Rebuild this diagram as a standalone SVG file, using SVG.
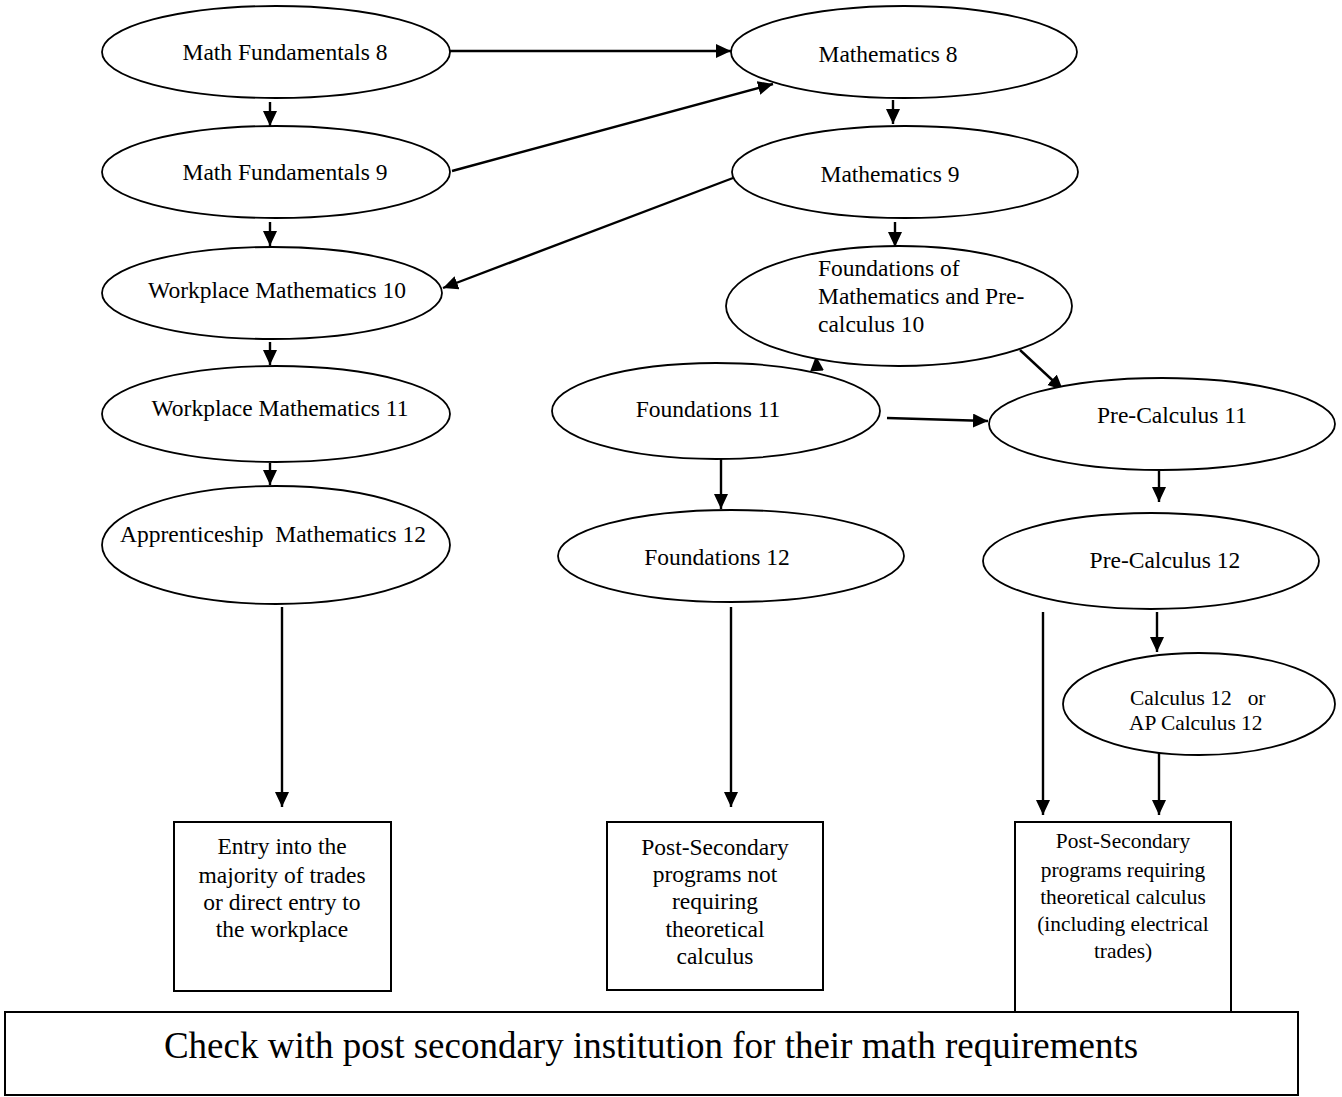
<svg xmlns="http://www.w3.org/2000/svg" width="1342" height="1097" viewBox="0 0 1342 1097">
<defs>
<marker id="arr" markerUnits="userSpaceOnUse" markerWidth="16" markerHeight="16" refX="15" refY="7" orient="auto">
<path d="M0,0 L15,7 L0,14 z" fill="#000"/>
</marker>
<style>
ellipse{fill:#fff;stroke:#000;stroke-width:1.8}
rect{fill:#fff;stroke:#000;stroke-width:2}
text{font-family:"Liberation Serif","Times New Roman",serif;font-size:23.5px;fill:#000}
.c{text-anchor:middle}
.s{font-size:21.4px}
.big{font-size:37px}
#connectors line{stroke:#000;stroke-width:2.4;marker-end:url(#arr)}
</style>
</defs>
<rect x="0" y="0" width="1342" height="1097" style="fill:#fff;stroke:none"/>
<g id="connectors">
<line x1="270" y1="102" x2="270" y2="126"/>
<line x1="450" y1="51" x2="731" y2="51"/>
<line x1="452" y1="171" x2="773" y2="84"/>
<line x1="893" y1="100" x2="893" y2="124"/>
<line x1="733" y1="178" x2="443" y2="288"/>
<line x1="270" y1="222" x2="270" y2="246"/>
<line x1="895" y1="222" x2="895" y2="247"/>
<line x1="270" y1="342" x2="270" y2="365"/>
<line x1="270" y1="463" x2="270" y2="485"/>
<line x1="282" y1="607" x2="282" y2="807"/>
<line x1="1020" y1="350" x2="1063" y2="390"/>
<line x1="817" y1="370" x2="816" y2="356"/>
<line x1="721" y1="459" x2="721" y2="509"/>
<line x1="887" y1="418" x2="988" y2="421"/>
<line x1="731" y1="607" x2="731" y2="807"/>
<line x1="1159" y1="471" x2="1159" y2="502"/>
<line x1="1157" y1="612" x2="1157" y2="652"/>
<line x1="1043" y1="612" x2="1043" y2="815"/>
<line x1="1159" y1="748" x2="1159" y2="815"/>
</g>
<g id="mf8"><ellipse cx="276" cy="52" rx="174" ry="46"/><text class="c" x="285" y="60">Math Fundamentals 8</text></g>
<g id="mf9"><ellipse cx="276" cy="172" rx="174" ry="46"/><text class="c" x="285" y="180">Math Fundamentals 9</text></g>
<g id="wm10"><ellipse cx="272" cy="293" rx="170" ry="46"/><text class="c" x="277" y="298">Workplace Mathematics 10</text></g>
<g id="wm11"><ellipse cx="276" cy="414" rx="174" ry="48"/><text class="c" x="280" y="416">Workplace Mathematics 11</text></g>
<g id="am12"><ellipse cx="276" cy="545" rx="174" ry="59"/><text class="c" x="273" y="542" xml:space="preserve">Apprenticeship  Mathematics 12</text></g>
<g id="m8"><ellipse cx="904" cy="52" rx="173" ry="46"/><text class="c" x="888" y="62">Mathematics 8</text></g>
<g id="m9"><ellipse cx="905" cy="172" rx="173" ry="46"/><text class="c" x="890" y="182">Mathematics 9</text></g>
<g id="fmp10"><ellipse cx="899" cy="306" rx="173" ry="60"/>
<text x="818" y="276">Foundations of</text>
<text x="818" y="304">Mathematics and Pre-</text>
<text x="818" y="332">calculus 10</text></g>
<g id="f11"><ellipse cx="716" cy="411" rx="164" ry="48"/><text class="c" x="708" y="417">Foundations 11</text></g>
<g id="f12"><ellipse cx="731" cy="556" rx="173" ry="46"/><text class="c" x="717" y="565">Foundations 12</text></g>
<g id="pc11"><ellipse cx="1162" cy="424" rx="173" ry="46"/><text class="c" x="1172" y="423">Pre-Calculus 11</text></g>
<g id="pc12"><ellipse cx="1151" cy="561" rx="168" ry="48"/><text class="c" x="1165" y="568">Pre-Calculus 12</text></g>
<g id="calc"><ellipse cx="1199" cy="704" rx="136" ry="51"/>
<text class="s" x="1130" y="705" xml:space="preserve">Calculus 12   or</text>
<text class="s" x="1129" y="730">AP Calculus 12</text></g>
<g id="entry"><rect x="174" y="822" width="217" height="169"/>
<text class="c" x="282" y="854">Entry into the</text>
<text class="c" x="282" y="883">majority of trades</text>
<text class="c" x="282" y="910">or direct entry to</text>
<text class="c" x="282" y="937">the workplace</text></g>
<g id="psnot"><rect x="607" y="822" width="216" height="168"/>
<text class="c" x="715" y="855">Post-Secondary</text>
<text class="c" x="715" y="882">programs not</text>
<text class="c" x="715" y="909">requiring</text>
<text class="c" x="715" y="937">theoretical</text>
<text class="c" x="715" y="964">calculus</text></g>
<g id="pscalc"><rect x="1015" y="822" width="216" height="191"/>
<text class="c s" x="1123" y="848">Post-Secondary</text>
<text class="c s" x="1123" y="877">programs requiring</text>
<text class="c s" x="1123" y="904">theoretical calculus</text>
<text class="c s" x="1123" y="931">(including electrical</text>
<text class="c s" x="1123" y="958">trades)</text></g>
<g id="banner"><rect x="5" y="1012" width="1293" height="83"/>
<text class="c big" x="651" y="1058">Check with post secondary institution for their math requirements</text></g>
</svg>
